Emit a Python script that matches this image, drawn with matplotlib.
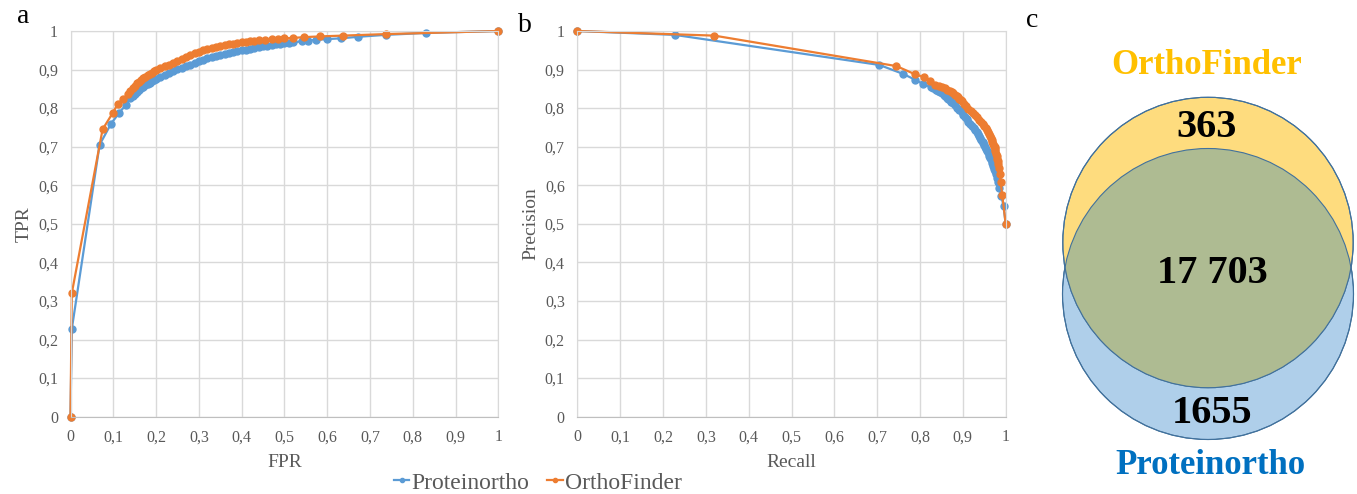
import matplotlib
matplotlib.use("Agg")
from matplotlib import pyplot as plt
from matplotlib.patches import Circle
import numpy as np

plt.rcParams['font.family'] = ['Liberation Serif', 'DejaVu Serif']

# ROC curves (FPR, TPR)
prot_fpr = [0, 0.003, 0.068, 0.095, 0.114, 0.129, 0.140, 0.145, 0.150, 0.155, 0.160, 0.165, 0.170,
            0.175, 0.180, 0.185, 0.190, 0.195, 0.200, 0.210, 0.220, 0.230, 0.240, 0.250, 0.260,
            0.270, 0.280, 0.290, 0.300, 0.310, 0.320, 0.330, 0.340, 0.350, 0.360, 0.370, 0.380,
            0.390, 0.400, 0.410, 0.420, 0.430, 0.440, 0.450, 0.460, 0.470, 0.480, 0.490, 0.500,
            0.510, 0.520, 0.540, 0.555, 0.573, 0.600, 0.632, 0.673, 0.737, 0.832, 1.0]
prot_tpr = [0, 0.227, 0.705, 0.760, 0.788, 0.808, 0.825, 0.831, 0.837, 0.842, 0.847, 0.851, 0.855,
            0.859, 0.863, 0.866, 0.870, 0.873, 0.876, 0.882, 0.887, 0.892, 0.897, 0.901, 0.905,
            0.909, 0.913, 0.917, 0.921, 0.925, 0.929, 0.932, 0.935, 0.938, 0.941, 0.943, 0.946,
            0.948, 0.950, 0.952, 0.954, 0.956, 0.958, 0.960, 0.962, 0.964, 0.966, 0.967, 0.968,
            0.970, 0.971, 0.973, 0.975, 0.977, 0.979, 0.981, 0.985, 0.990, 0.995, 1.0]

orth_fpr = [0, 0.003, 0.075, 0.099, 0.110, 0.122, 0.135, 0.140, 0.145, 0.150, 0.155, 0.160, 0.165,
            0.170, 0.175, 0.180, 0.185, 0.190, 0.195, 0.200, 0.210, 0.220, 0.230, 0.240, 0.250,
            0.260, 0.270, 0.280, 0.290, 0.300, 0.310, 0.320, 0.330, 0.340, 0.350, 0.360, 0.370,
            0.380, 0.390, 0.400, 0.410, 0.420, 0.430, 0.440, 0.455, 0.470, 0.485, 0.500, 0.520,
            0.545, 0.583, 0.636, 0.737, 1.0]
orth_tpr = [0, 0.320, 0.745, 0.788, 0.810, 0.823, 0.836, 0.845, 0.852, 0.858, 0.864, 0.869, 0.874,
            0.878, 0.882, 0.886, 0.889, 0.892, 0.895, 0.898, 0.903, 0.908, 0.913, 0.918, 0.923,
            0.928, 0.933, 0.938, 0.942, 0.946, 0.950, 0.953, 0.956, 0.959, 0.961, 0.963, 0.965,
            0.967, 0.969, 0.971, 0.972, 0.974, 0.975, 0.976, 0.977, 0.979, 0.980, 0.981, 0.982,
            0.984, 0.986, 0.988, 0.992, 1.0]

# precision-recall curves
prot_recall = [0, 0.227, 0.705, 0.760, 0.788, 0.808, 0.825, 0.831, 0.837, 0.842, 0.847, 0.851, 0.855,
               0.859, 0.863, 0.866, 0.870, 0.873, 0.876, 0.882, 0.887, 0.892, 0.897, 0.901, 0.905,
               0.909, 0.913, 0.917, 0.921, 0.925, 0.929, 0.932, 0.935, 0.938, 0.941, 0.943, 0.946,
               0.948, 0.950, 0.952, 0.954, 0.956, 0.958, 0.960, 0.962, 0.964, 0.966, 0.967, 0.968,
               0.970, 0.971, 0.973, 0.975, 0.977, 0.979, 0.981, 0.985, 0.990, 0.995, 1.0]
prot_precision = [1.0, 0.990, 0.912, 0.889, 0.874, 0.862, 0.855, 0.851, 0.848, 0.845, 0.841, 0.838, 0.834,
                  0.831, 0.827, 0.824, 0.821, 0.817, 0.814, 0.808, 0.801, 0.795, 0.789, 0.783, 0.777,
                  0.771, 0.765, 0.760, 0.754, 0.749, 0.744, 0.739, 0.733, 0.728, 0.723, 0.718, 0.713,
                  0.709, 0.704, 0.699, 0.694, 0.690, 0.685, 0.681, 0.677, 0.672, 0.668, 0.664, 0.659,
                  0.655, 0.651, 0.643, 0.637, 0.630, 0.620, 0.608, 0.594, 0.573, 0.545, 0.5]

orth_recall = [0, 0.320, 0.745, 0.788, 0.810, 0.823, 0.836, 0.845, 0.852, 0.858, 0.864, 0.869, 0.874,
               0.878, 0.882, 0.886, 0.889, 0.892, 0.895, 0.898, 0.903, 0.908, 0.913, 0.918, 0.923,
               0.928, 0.933, 0.938, 0.942, 0.946, 0.950, 0.953, 0.956, 0.959, 0.961, 0.963, 0.965,
               0.967, 0.969, 0.971, 0.972, 0.974, 0.975, 0.976, 0.977, 0.979, 0.980, 0.981, 0.982,
               0.984, 0.986, 0.988, 0.992, 1.0]
orth_precision = [1.0, 0.988, 0.909, 0.888, 0.880, 0.871, 0.861, 0.858, 0.855, 0.851, 0.848, 0.845, 0.841,
                  0.838, 0.834, 0.831, 0.828, 0.824, 0.821, 0.818, 0.811, 0.805, 0.799, 0.793, 0.787,
                  0.781, 0.776, 0.770, 0.765, 0.759, 0.754, 0.749, 0.743, 0.738, 0.733, 0.728, 0.723,
                  0.718, 0.713, 0.708, 0.703, 0.699, 0.694, 0.689, 0.682, 0.676, 0.669, 0.662, 0.654,
                  0.644, 0.628, 0.608, 0.574, 0.5]

tick_values = [0, 0.1, 0.2, 0.3, 0.4, 0.5, 0.6, 0.7, 0.8, 0.9, 1]
tick_labels = ['0', '0,1', '0,2', '0,3', '0,4', '0,5', '0,6', '0,7', '0,8', '0,9', '1']

# Venn counts
venn_only_orth = '363'
venn_both = '17 703'
venn_only_prot = '1655'

BLUE = '#5B9BD5'
ORANGE = '#ED7D31'
GRID = '#D9D9D9'
TEXT = '#595959'

W, H = 1357, 494
fig = plt.figure(figsize=(W / 100, H / 100), dpi=100)


def style_axes(ax, xlabel, ylabel):
    ax.set_xlim(0, 1)
    ax.set_ylim(0, 1)
    ax.set_xticks(tick_values)
    ax.set_yticks(tick_values)
    ax.set_xticklabels(tick_labels)
    ax.set_yticklabels(tick_labels)
    ax.tick_params(length=0, labelsize=11.5, labelcolor=TEXT, pad=9)
    ax.grid(True, color=GRID, lw=1)
    ax.set_axisbelow(True)
    for s in ax.spines.values():
        s.set_color(GRID)
    ax.spines['bottom'].set_color('#BFBFBF')
    ax.set_xlabel(xlabel, fontsize=14, color=TEXT, labelpad=6)
    ax.set_ylabel(ylabel, fontsize=14, color=TEXT, labelpad=4)


ax_a = fig.add_axes([70.5 / W, 1 - 416.7 / H, 427.8 / W, 385.7 / H])
ax_a.plot(prot_fpr, prot_tpr, '-o', color=BLUE, lw=1.6, ms=5, clip_on=False, label='Proteinortho')
ax_a.plot(orth_fpr, orth_tpr, '-o', color=ORANGE, lw=1.6, ms=5, clip_on=False, label='OrthoFinder')
style_axes(ax_a, 'FPR', 'TPR')

ax_b = fig.add_axes([577.3 / W, 1 - 416.7 / H, 428.4 / W, 385.7 / H])
ax_b.plot(prot_recall, prot_precision, '-o', color=BLUE, lw=1.6, ms=5, clip_on=False)
ax_b.plot(orth_recall, orth_precision, '-o', color=ORANGE, lw=1.6, ms=5, clip_on=False)
style_axes(ax_b, 'Recall', 'Precision')

handles, labels = ax_a.get_legend_handles_labels()
fig.legend(handles, labels, loc='center', bbox_to_anchor=(538 / W, 1 - 483 / H), ncol=2,
           frameon=False, fontsize=17, handlelength=0.65, handletextpad=0.1,
           columnspacing=0.75, markerscale=0.6, labelcolor=TEXT, borderpad=0)

fig.text(17 / W, 1 - 23 / H, 'a', fontsize=20, va='baseline')
fig.text(518 / W, 1 - 32 / H, 'b', fontsize=20, va='baseline')
fig.text(1026 / W, 1 - 27 / H, 'c', fontsize=20, va='baseline')

# Venn diagram in pixel coordinates
ax_c = fig.add_axes([1020 / W, 0, 337 / W, 1])
ax_c.set_xlim(1020, 1357)
ax_c.set_ylim(494, 0)
ax_c.axis('off')

orth_circle = Circle((1208, 242.5), 145.2, facecolor='#FEDC7E', edgecolor='#41719C', lw=0.8, zorder=2)
prot_circle = Circle((1208, 294), 145.5, facecolor='#AFCFEA', edgecolor='#41719C', lw=0.8, zorder=1)
ax_c.add_patch(prot_circle)
ax_c.add_patch(orth_circle)
overlap = Circle((1208, 242.5), 145.2, facecolor='#AEBB92', edgecolor='none', zorder=3)
ax_c.add_patch(overlap)
overlap.set_clip_path(prot_circle)
ax_c.add_patch(Circle((1208, 294), 145.5, facecolor='none', edgecolor='#41719C', lw=0.8, zorder=4))
ax_c.add_patch(Circle((1208, 242.5), 145.2, facecolor='none', edgecolor='#41719C', lw=0.8, zorder=4))

bold = dict(fontweight='bold', ha='center', va='center', zorder=5)
ax_c.text(1207, 65, 'OrthoFinder', fontsize=25, color='#FFC000', **bold)
ax_c.text(1207, 127, venn_only_orth, fontsize=29, color='black', **bold)
ax_c.text(1212, 273, venn_both, fontsize=29, color='black', **bold)
ax_c.text(1212, 413, venn_only_prot, fontsize=29, color='black', **bold)
ax_c.text(1210, 465, 'Proteinortho', fontsize=25, color='#0070C0', **bold)

fig.savefig('out.png', dpi=100)
